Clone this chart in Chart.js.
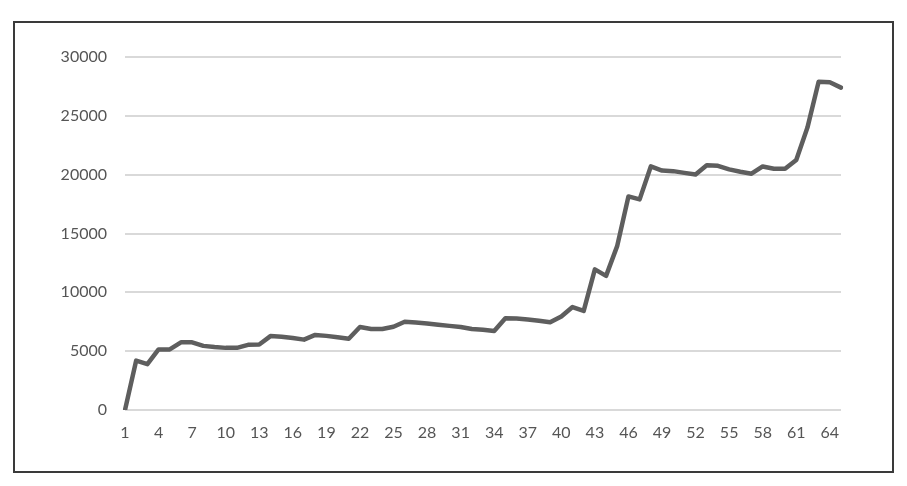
<!DOCTYPE html>
<html>
<head>
<meta charset="utf-8">
<script src="https://cdn.jsdelivr.net/npm/chart.js@4"></script>
<style>
    html, body { margin: 0; padding: 0; background: #fff; }
    #frame {
        position: absolute; left: 13px; top: 21px;
        width: 877px; height: 448px;
        border: 2px solid #3a3a3a;
    }
    #wrap { position: absolute; left: 0; top: 0; width: 907px; height: 486px; }
</style>
</head>
<body>
<div id="frame"></div>
<div id="wrap"><canvas id="lineChart"></canvas></div>
<script>
// categories 1..65
const categories = [
    1, 2, 3, 4, 5, 6, 7, 8, 9, 10, 11, 12, 13, 14, 15, 16, 17, 18, 19, 20,
    21, 22, 23, 24, 25, 26, 27, 28, 29, 30, 31, 32, 33, 34, 35, 36, 37, 38, 39, 40,
    41, 42, 43, 44, 45, 46, 47, 48, 49, 50, 51, 52, 53, 54, 55, 56, 57, 58, 59, 60,
    61, 62, 63, 64, 65
];
const values = [
    0, 4200, 3900, 5150, 5150, 5750, 5750, 5450, 5350, 5280,
    5280, 5540, 5560, 6280, 6230, 6120, 5980, 6380, 6300, 6180,
    6050, 7050, 6880, 6880, 7080, 7500, 7430, 7350, 7240, 7150,
    7050, 6880, 6820, 6720, 7800, 7780, 7690, 7580, 7450, 7950,
    8750, 8420, 11950, 11400, 13950, 18150, 17900, 20700, 20350, 20300,
    20150, 20020, 20800, 20750, 20450, 20250, 20080, 20700, 20500, 20500,
    21250, 24000, 27900, 27850, 27400
];
const yTicks = [0, 5000, 10000, 15000, 20000, 25000, 30000];

const textColor = '#555555';
const tickFont = { family: 'Lato', size: 16 };

const ctx = document.getElementById('lineChart');
const lineChart = new Chart(ctx, {
    type: 'line',
    data: {
        labels: categories,
        datasets: [{
            data: values,
            borderColor: '#5e5e5e',
            borderWidth: 4.5,
            borderJoinStyle: 'round',
            borderCapStyle: 'round',
            pointRadius: 0,
            tension: 0,
            fill: false
        }]
    },
    options: {
        responsive: true,
        maintainAspectRatio: false,
        animation: false,
        plugins: {
            legend: { display: false },
            tooltip: { enabled: false }
        },
        layout: {
            padding: { left: 30, right: 66, top: 57, bottom: 30 }
        },
        scales: {
            x: {
                offset: false,
                grid: { display: false, drawTicks: false },
                border: { display: false },
                ticks: {
                    autoSkip: false,
                    maxRotation: 0,
                    padding: 13,
                    color: textColor,
                    font: tickFont,
                    callback: function (val, i) {
                        return i % 3 === 0 ? categories[i] : null;
                    }
                },
                afterFit: function (scale) { scale.height = 46; }
            },
            y: {
                min: yTicks[0],
                max: yTicks[yTicks.length - 1],
                afterBuildTicks: function (scale) {
                    scale.ticks = yTicks.map(v => ({ value: v }));
                },
                grid: { color: '#d9d9d9', lineWidth: 2, drawTicks: false },
                border: { display: false },
                ticks: {
                    padding: 18,
                    color: textColor,
                    font: tickFont,
                    callback: function (v) { return String(v); }
                },
                afterFit: function (scale) { scale.width = 95; }
            }
        }
    }
});
</script>
</body>
</html>
